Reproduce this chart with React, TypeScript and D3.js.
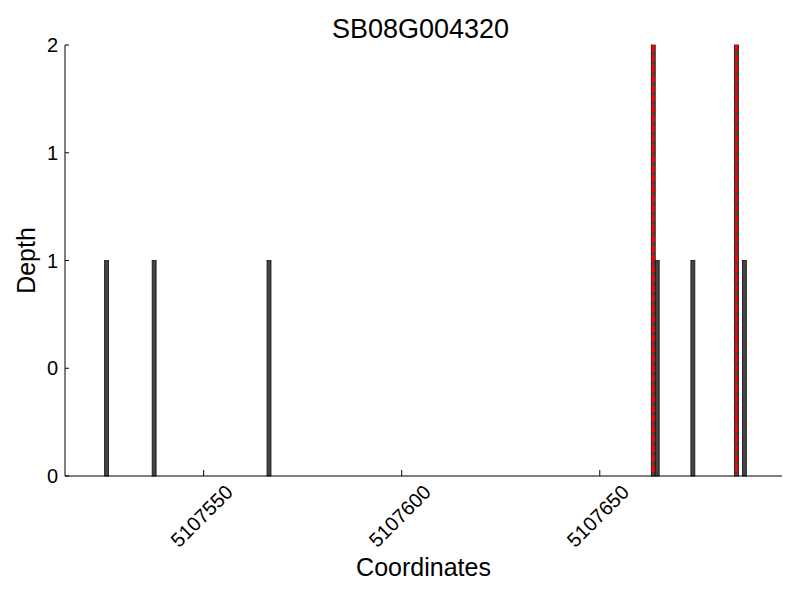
import React from "react";
import * as d3 from "d3";

// bin start coordinates and read depths
const positions = [5107525, 5107537, 5107566, 5107663, 5107664, 5107673, 5107684, 5107686];
const depths = [1, 1, 1, 2, 1, 1, 2, 1];
// marked sites (red dashed lines)
const marks = [5107663.5, 5107684.5];
const xTicks = [5107550, 5107600, 5107650];
const yTicks = [0, 0.5, 1, 1.5, 2];

const W = 800;
const H = 600;
const left = 65, right = 782, top = 45, bottom = 476;

export default function App() {
    const x = d3.scaleLinear().domain([5107515, 5107696]).range([left, right]);
    const y = d3.scaleLinear().domain([0, 2]).range([bottom, top]);
    const font = "Liberation Sans, Arial, sans-serif";

    return (
        <svg width={W} height={H} style={{ position: "absolute", left: 0, top: 0, background: "#fff" }}
            fontFamily={font}>
            <text x={(left + right) / 2 - 3} y={38} textAnchor="middle" fontSize={27}>SB08G004320</text>

            {positions.map((p, i) => (
                <rect key={i} x={x(p)} y={y(depths[i])} width={x(p + 1) - x(p)} height={y(0) - y(depths[i])}
                    fill="#444" stroke="#111" strokeWidth={0.8} />
            ))}

            {marks.map((m, i) => (
                <line key={i} x1={x(m)} x2={x(m)} y1={y(2)} y2={y(0)} stroke="#ff0000" strokeWidth={3}
                    strokeDasharray="7,3" />
            ))}

            <line x1={left} x2={left} y1={top} y2={bottom} stroke="#000" strokeWidth={1} />
            <line x1={left} x2={right} y1={bottom} y2={bottom} stroke="#000" strokeWidth={1} />

            {yTicks.map((t, i) => (
                <g key={i}>
                    <line x1={left} x2={left + 4} y1={y(t)} y2={y(t)} stroke="#000" />
                    <text x={left - 7} y={y(t)} textAnchor="end" dominantBaseline="central" fontSize={20}>
                        {d3.format("d")(Math.floor(t))}
                    </text>
                </g>
            ))}

            {xTicks.map((t, i) => (
                <g key={i}>
                    <line x1={x(t)} x2={x(t)} y1={bottom} y2={bottom - 6} stroke="#000" />
                    <text transform={`translate(${x(t) - 2},${516}) rotate(-45)`} textAnchor="middle"
                        dominantBaseline="central" fontSize={20}>{t}</text>
                </g>
            ))}

            <text x={(left + right) / 2} y={576} textAnchor="middle" fontSize={25}>Coordinates</text>
            <text transform={`translate(35,${(top + bottom) / 2}) rotate(-90)`} textAnchor="middle"
                fontSize={25}>Depth</text>
        </svg>
    );
}
